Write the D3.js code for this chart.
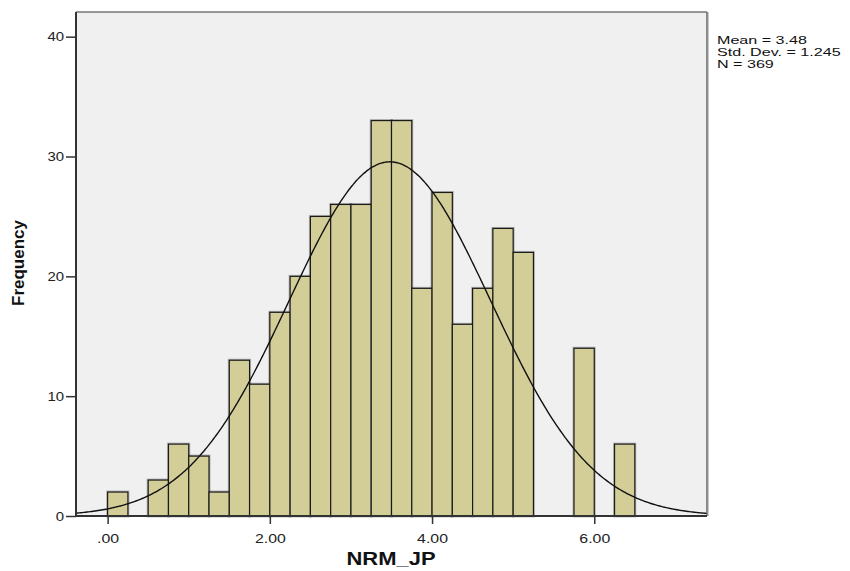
<!DOCTYPE html>
<html>
<head>
<meta charset="utf-8">
<script src="https://cdn.jsdelivr.net/npm/d3@7"></script>
<style>
  body { margin: 0; background: #fff; }
  text { font-family: Arial, "Liberation Sans", sans-serif; }
</style>
</head>
<body>
<div id="chart"></div>
<script>
// bins of width 0.25 starting at 0
const binStarts = [0, 0.25, 0.5, 0.75, 1.0, 1.25, 1.5, 1.75, 2.0, 2.25, 2.5, 2.75, 3.0,
  3.25, 3.5, 3.75, 4.0, 4.25, 4.5, 4.75, 5.0, 5.25, 5.5, 5.75, 6.0, 6.25];
const counts = [2, 0, 3, 6, 5, 2, 13, 11, 17, 20, 25, 26, 26,
  33, 33, 19, 27, 16, 19, 24, 22, 0, 0, 14, 0, 6];
const binWidth = 0.25;
const xTicks = [0, 2, 4, 6];
const yTicks = [0, 10, 20, 30, 40];
const stats = { mean: 3.48, sd: 1.245, n: 369 };
const statLines = ["Mean = 3.48", "Std. Dev. = 1.245", "N = 369"];

const W = 850, H = 571;
const plot = { left: 76, top: 12, right: 707, bottom: 516 };

const svg = d3.select('#chart').append('svg')
  .attr('width', W).attr('height', H);

const x = d3.scaleLinear().domain([-0.39, 7.39]).range([plot.left, plot.right]);
const y = d3.scaleLinear().domain([0, 42.06]).range([plot.bottom, plot.top]);

// plot background
svg.append('rect')
  .attr('x', plot.left).attr('y', plot.top)
  .attr('width', plot.right - plot.left).attr('height', plot.bottom - plot.top)
  .attr('fill', '#f0f0f0');

// bars
const bars = binStarts.map((s, i) => ({ x0: s, x1: s + binWidth, c: counts[i] })).filter(d => d.c > 0);
// soft shadow
svg.append('g').selectAll('rect').data(bars).enter().append('rect')
  .attr('x', d => x(d.x0)).attr('y', d => y(d.c))
  .attr('width', d => x(d.x1) - x(d.x0)).attr('height', d => y(0) - y(d.c))
  .attr('fill', 'none').attr('stroke', '#000').attr('stroke-opacity', 0.25).attr('stroke-width', 3);
svg.append('g').selectAll('rect').data(bars).enter().append('rect')
  .attr('x', d => x(d.x0)).attr('y', d => y(d.c))
  .attr('width', d => x(d.x1) - x(d.x0)).attr('height', d => y(0) - y(d.c))
  .attr('fill', '#d3ce98').attr('stroke', '#1a1a1a').attr('stroke-width', 1.2);

// normal curve from the shown mean, sd and N
const scaleK = stats.n * binWidth / (stats.sd * Math.sqrt(2 * Math.PI));
const curveXs = d3.range(0, 401).map(i => -0.39 + i * (7.78 / 400));
const line = d3.line()
  .x(v => x(v))
  .y(v => y(scaleK * Math.exp(-0.5 * Math.pow((v - stats.mean) / stats.sd, 2))))
  .curve(d3.curveBasis);
svg.append('path').datum(curveXs)
  .attr('d', line).attr('fill', 'none')
  .attr('stroke', '#111').attr('stroke-width', 1.4);

// frame
svg.append('line').attr('x1', plot.left).attr('x2', plot.right).attr('y1', plot.top).attr('y2', plot.top)
  .attr('stroke', '#777').attr('stroke-width', 1.5);
svg.append('line').attr('x1', plot.right).attr('x2', plot.right).attr('y1', plot.top).attr('y2', plot.bottom)
  .attr('stroke', '#666').attr('stroke-width', 1.5);
svg.append('line').attr('x1', plot.right + 1.5).attr('x2', plot.right + 1.5).attr('y1', plot.top).attr('y2', plot.bottom)
  .attr('stroke', '#ccc').attr('stroke-width', 1);

// axes
const xAxis = svg.append('g')
  .attr('transform', `translate(0,${plot.bottom})`)
  .call(d3.axisBottom(x).tickValues(xTicks).tickSizeInner(8).tickSizeOuter(0)
    .tickFormat(d => d === 0 ? '.00' : d3.format('.2f')(d)));
xAxis.select('.domain').remove();
xAxis.append('line').attr('x1', plot.left).attr('x2', plot.right)
  .attr('stroke', '#333').attr('stroke-width', 2);
xAxis.selectAll('.tick line').attr('stroke', '#333').attr('stroke-width', 1.5);
xAxis.selectAll('.tick text').attr('fill', '#222').attr('dy', '1.2em')
  .attr('transform', 'scale(1.22,1)')
  .style('font-size', '13px');

const yAxis = svg.append('g')
  .attr('transform', `translate(${plot.left},0)`)
  .call(d3.axisLeft(y).tickValues(yTicks).tickSizeInner(10).tickSizeOuter(0));
yAxis.select('.domain').remove();
yAxis.append('line').attr('y1', plot.top).attr('y2', plot.bottom)
  .attr('stroke', '#333').attr('stroke-width', 2);
yAxis.selectAll('.tick line').attr('stroke', '#333').attr('stroke-width', 1.5);
yAxis.selectAll('.tick text').attr('fill', '#222').attr('x', -12 / 1.15)
  .attr('transform', 'scale(1.15,1)')
  .style('font-size', '13px');

// axis titles
svg.append('text')
  .attr('transform', 'rotate(-90)')
  .attr('x', -263).attr('y', 24)
  .attr('text-anchor', 'middle')
  .style('font-family', '"Liberation Sans Narrow", "Arial Narrow", Arial, sans-serif')
  .style('font-weight', 'bold').style('font-size', '17px')
  .attr('fill', '#111')
  .text('Frequency');

svg.append('text')
  .attr('transform', 'translate(391,565) scale(1.22,1)')
  .attr('text-anchor', 'middle')
  .style('font-weight', 'bold').style('font-size', '18px')
  .attr('fill', '#111')
  .text('NRM_JP');

// stats box
svg.append('g').selectAll('text').data(statLines).enter().append('text')
  .attr('transform', (d, i) => `translate(717,${44 + i * 12}) scale(1.4,1)`)
  .style('font-size', '11.5px').attr('fill', '#111')
  .text(d => d);
</script>
</body>
</html>
